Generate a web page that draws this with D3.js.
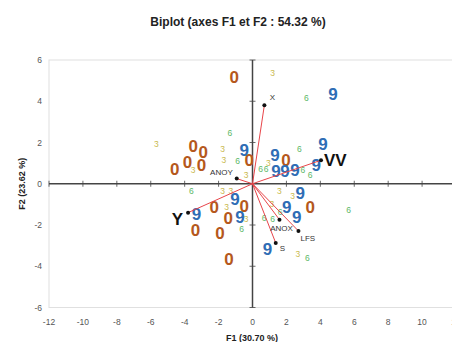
<!DOCTYPE html>
<html><head><meta charset="utf-8">
<script src="https://cdn.jsdelivr.net/npm/d3@7"></script>
<style>body{margin:0;background:#fff}svg{display:block;font-family:"Liberation Sans",Arial,sans-serif}</style>
</head><body><div id="chart"></div>
<script>
// Observations: class label and F1/F2 scores
const obs0 = [[-1.08,5.18],[-3.50,1.82],[-2.91,1.54],[-4.59,0.74],[-3.83,1.06],[-3.01,0.90],[-0.19,1.14],[1.98,1.14],[-2.26,-1.13],[-0.49,-1.08],[-1.43,-1.66],[-3.36,-2.26],[-1.92,-2.37],[-1.39,-3.63],[3.40,-1.13]];
const obs9 = [[-0.49,1.63],[-1.04,-0.75],[1.33,1.38],[4.15,1.95],[1.39,0.62],[1.92,0.62],[2.51,0.69],[3.76,0.90],[2.81,-0.45],[-3.30,-1.45],[-0.74,-1.61],[2.02,-1.13],[2.61,-1.61],[0.88,-3.15],[4.74,4.38]];
const obs3 = [[1.19,5.38],[-5.67,1.92],[-1.76,1.71],[-1.69,1.14],[-3.50,0.66],[-0.38,0.41],[-1.76,-0.35],[-1.27,-0.35],[0.94,1.01],[1.59,-0.35],[2.36,-0.61],[-1.53,-1.13],[-0.38,-1.69],[1.14,-0.96],[2.67,-3.39]];
const obs6 = [[3.17,4.14],[-1.33,2.44],[-0.88,1.11],[-3.60,-0.35],[0.48,0.74],[0.80,0.74],[2.77,1.71],[2.97,0.66],[3.40,0.41],[-0.64,-2.17],[5.67,-1.29],[0.68,-1.66],[1.19,-1.72],[1.63,-1.37],[3.24,-3.60]];
// Variables (loadings scaled)
const varNames = ["X","ANOY","VV","Y","ANOX","LFS","S"];
const varX = [0.70,-0.93,4.04,-3.80,1.59,2.71,1.37];
const varY = [3.81,0.25,1.14,-1.40,-1.74,-2.29,-2.87];
const xTicks = [-12,-10,-8,-6,-4,-2,0,2,4,6,8,10,12];
const yTicks = [-6,-4,-2,0,2,4,6];
const title = "Biplot (axes F1 et F2 : 54.32 %)";
const xTitle = "F1 (30.70 %)";
const yTitle = "F2 (23.62 %)";

const W=452,H=342;
const svg=d3.select("#chart").append("svg").attr("width",W).attr("height",H);
const x=d3.scaleLinear().domain([-12,12]).range([49,456]);
const y=d3.scaleLinear().domain([-6,6]).range([307.5,60]);

svg.append("rect").attr("x",x(-12)).attr("y",y(6)).attr("width",x(12)-x(-12)).attr("height",y(-6)-y(6))
  .attr("fill","none").attr("stroke","#e0e0e0").attr("stroke-width",1);

// axes through origin
const ax=svg.append("g").attr("stroke","#444");
ax.append("line").attr("x1",x(-12)).attr("x2",x(12)).attr("y1",y(0)).attr("y2",y(0)).attr("stroke-width",1.5);
ax.append("line").attr("x1",x(0)).attr("x2",x(0)).attr("y1",y(6)).attr("y2",y(-6)).attr("stroke-width",1.5);
ax.selectAll(".tx").data(xTicks.filter(d=>d!==0)).join("line").attr("x1",d=>x(d)).attr("x2",d=>x(d)).attr("y1",y(0)-3).attr("y2",y(0)+3).attr("stroke-width",0.8);
ax.selectAll(".ty").data(yTicks.filter(d=>d!==0)).join("line").attr("y1",d=>y(d)).attr("y2",d=>y(d)).attr("x1",x(0)-3).attr("x2",x(0)+3).attr("stroke-width",0.8);

// tick labels
svg.append("g").selectAll("text").data(xTicks).join("text").attr("x",d=>x(d)).attr("y",325)
  .attr("text-anchor","middle").attr("font-size",8.5).attr("fill","#555").text(d=>d);
svg.append("g").selectAll("text").data(yTicks).join("text").attr("x",42).attr("y",d=>y(d)+3)
  .attr("text-anchor","end").attr("font-size",8.5).attr("fill","#555").text(d=>d);

svg.append("text").attr("x",238).attr("y",26).attr("text-anchor","middle").attr("font-size",12).attr("font-weight","bold").attr("fill","#222").text(title);
svg.append("text").attr("x",252).attr("y",341).attr("text-anchor","middle").attr("font-size",9).attr("font-weight","bold").attr("fill","#222").text(xTitle);
svg.append("text").attr("transform",`translate(25,${y(0)}) rotate(-90)`).attr("text-anchor","middle").attr("font-size",9).attr("font-weight","bold").attr("fill","#222").text(yTitle);

// observations
const groups=[
  {lab:"3",data:obs3,color:"#c9b94e",size:8.5,w:"normal"},
  {lab:"6",data:obs6,color:"#5cb866",size:8.5,w:"normal"},
  {lab:"0",data:obs0,color:"#b5581c",size:17,w:"bold"},
  {lab:"9",data:obs9,color:"#2f6db5",size:17,w:"bold"}
];
groups.forEach(g=>{
  svg.append("g").selectAll("text").data(g.data).join("text")
    .attr("x",d=>x(d[0])).attr("y",d=>y(d[1])).attr("dy","0.36em")
    .attr("text-anchor","middle").attr("font-size",g.size).attr("font-weight",g.w)
    .attr("fill",g.color).text(g.lab);
});

// variable vectors
const vars=varNames.map((n,i)=>({n,vx:varX[i],vy:varY[i]}));
svg.append("g").selectAll("line").data(vars).join("line")
  .attr("x1",x(0)).attr("y1",y(0)).attr("x2",d=>x(d.vx)).attr("y2",d=>y(d.vy))
  .attr("stroke","#e8454a").attr("stroke-width",1);
svg.append("g").selectAll("circle").data(vars).join("circle")
  .attr("cx",d=>x(d.vx)).attr("cy",d=>y(d.vy)).attr("r",2).attr("fill","#111");
const lp={X:{dx:8,dy:-5,a:"middle",s:8,b:false},ANOY:{dx:-4,dy:-4,a:"end",s:8,b:false},VV:{dx:3,dy:6,a:"start",s:17,b:true},
  Y:{dx:-5,dy:12,a:"end",s:17,b:true},ANOX:{dx:2,dy:11,a:"middle",s:8,b:false},LFS:{dx:2,dy:10,a:"start",s:8,b:false},S:{dx:4,dy:8,a:"start",s:8,b:false}};
svg.append("g").selectAll("text").data(vars).join("text")
  .attr("x",d=>x(d.vx)+lp[d.n].dx).attr("y",d=>y(d.vy)+lp[d.n].dy)
  .attr("text-anchor",d=>lp[d.n].a).attr("font-size",d=>lp[d.n].s).attr("font-weight",d=>lp[d.n].b?"bold":"normal")
  .attr("fill",d=>lp[d.n].b?"#111":"#333").text(d=>d.n);
</script></body></html>
